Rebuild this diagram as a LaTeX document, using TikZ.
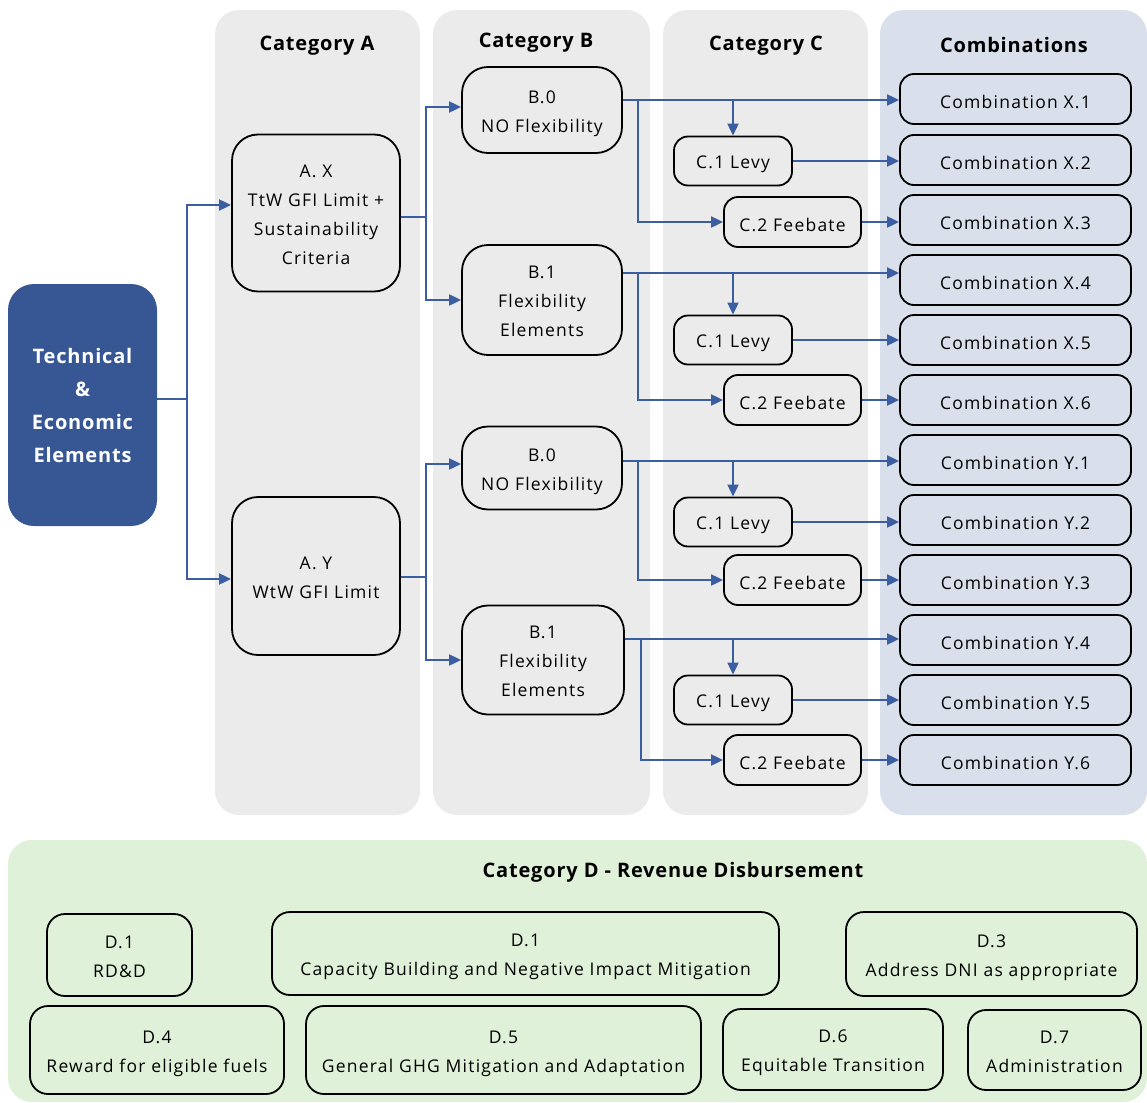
\documentclass[tikz,border=0pt]{standalone}
\usepackage{fontspec}
\setmainfont{Open Sans}[LetterSpace=7]
\newfontfamily\headfont{Open Sans}[LetterSpace=4]
\usetikzlibrary{arrows.meta,calc}
\definecolor{colgray}{HTML}{EBEBEB}
\definecolor{colcomb}{HTML}{D9DFEB}
\definecolor{colgreen}{HTML}{DFF1D8}
\definecolor{coltech}{HTML}{365694}
\definecolor{colline}{HTML}{3B5EA2}
\newcommand\mlines[1]{\raisebox{-2pt}[\height][\depth]{\begin{tabular}{@{}c@{}}#1\end{tabular}}}
\tikzset{
  lane/.style={rounded corners=24pt},
  box/.style={draw=black, line width=1.8pt, align=center, inner sep=0pt,
    font=\fontsize{17.5}{29}\selectfont, execute at begin node={\rule{0pt}{19pt}}},
  bbox/.style={box, rounded corners=26pt},
  cbox/.style={box, rounded corners=14pt},
  dbox/.style={box, rounded corners=18pt},
  title/.style={font=\headfont\fontsize{20}{24}\selectfont\bfseries},
  conn/.style={draw=colline, line width=1.9pt, -{Triangle[length=12pt,width=11pt]}},
  plain/.style={draw=colline, line width=1.9pt},
}
\begin{document}
\begin{tikzpicture}[x=1pt,y=-1pt]
\useasboundingbox (0,0) rectangle (1147,1102);
% lanes
\fill[colgray, lane] (215,10) rectangle (420,815);
\fill[colgray, lane] (433,10) rectangle (650,815);
\fill[colgray, lane] (663,10) rectangle (868,815);
\fill[colcomb, lane] (880,10) rectangle (1147,815);
\fill[colgreen, lane] (8,840) rectangle (1147,1102);
% titles
\node[title] (tA) at (317,46) {Category A};
\node[title] (tB) at (536,43) {Category B};
\node[title] (tC) at (766,46) {Category C};
\node[title] (tD) at (1014,45) {Combinations};
\node[title] (tE) at (673,872) {Category D - Revenue Disbursement};
% technical
\node[fill=coltech, rounded corners=26pt, minimum width=149pt, minimum height=242pt,
  inner sep=0pt, align=center, text=white, font=\headfont\fontsize{20}{33}\selectfont\bfseries]
  (tech) at (82.5,405) {Technical\\\&\\Economic\\Elements};
% category A
\node[bbox, minimum width=168pt, minimum height=157pt] (ax) at (316,213)
  {\mlines{A. X\\TtW GFI Limit +\\Sustainability\\Criteria}};
\node[bbox, minimum width=168pt, minimum height=158pt] (ay) at (316,576)
  {\mlines{A. Y\\WtW GFI Limit}};
% category B
\node[bbox, minimum width=160pt, minimum height=86pt] (b0a) at (542,110) {\mlines{B.0\\NO Flexibility}};
\node[bbox, minimum width=160pt, minimum height=110pt] (b1a) at (542,300) {\mlines{B.1\\Flexibility\\Elements}};
\node[bbox, minimum width=160pt, minimum height=83pt] (b0b) at (542,468) {\mlines{B.0\\NO Flexibility}};
\node[bbox, minimum width=162pt, minimum height=109pt] (b1b) at (543,660) {\mlines{B.1\\Flexibility\\Elements}};
% category C
\foreach \i/\y in {a/161,b/340,c/522,d/700}{
  \node[cbox, minimum width=118pt, minimum height=49pt] (c1\i) at (733,\y) {C.1 Levy};
}
\foreach \i/\y in {a/222,b/400,c/580,d/760}{
  \node[cbox, minimum width=137pt, minimum height=50pt] (c2\i) at (792.5,\y) {C.2 Feebate};
}
% combinations
\foreach \n/\t/\y in {x1/X.1/99,x2/X.2/160,x3/X.3/220,x4/X.4/280,x5/X.5/340,x6/X.6/400,
  y1/Y.1/460,y2/Y.2/520,y3/Y.3/580,y4/Y.4/640,y5/Y.5/700,y6/Y.6/760}{
  \node[cbox, minimum width=231pt, minimum height=50pt] (\n) at (1015.5,\y) {Combination \t};
}
% category D
\node[dbox, minimum width=145pt, minimum height=82pt] (d1) at (119.5,955) {\mlines{D.1\\RD\&D}};
\node[dbox, minimum width=507pt, minimum height=83pt] (d2) at (525.5,953.5) {\mlines{D.1\\Capacity Building and Negative Impact Mitigation}};
\node[dbox, minimum width=291pt, minimum height=84pt] (d3) at (991.5,954) {\mlines{D.3\\Address DNI as appropriate}};
\node[dbox, minimum width=254pt, minimum height=88pt] (d4) at (157,1050) {\mlines{D.4\\Reward for eligible fuels}};
\node[dbox, minimum width=395pt, minimum height=88pt] (d5) at (503.5,1050) {\mlines{D.5\\General GHG Mitigation and Adaptation}};
\node[dbox, minimum width=220pt, minimum height=81pt] (d6) at (833,1049.5) {\mlines{D.6\\Equitable Transition}};
\node[dbox, minimum width=173pt, minimum height=80pt] (d7) at (1054.5,1050) {\mlines{D.7\\Administration}};
% connectors: technical -> A
\coordinate (j0) at (187,399);
\draw[plain] (tech.east |- j0) -- (j0);
\draw[conn] (j0) |- ([yshift=8pt]ax.west);
\draw[conn] (j0) |- ([yshift=-3pt]ay.west);
% A -> B
\coordinate (j1) at (426,217);
\draw[plain] (ax.east |- j1) -- (j1);
\draw[conn] (j1) |- ([yshift=3pt]b0a.west);
\draw[conn] (j1) |- (b1a.west);
\coordinate (j2) at (426,577);
\draw[plain] (ay.east |- j2) -- (j2);
\draw[conn] (j2) |- ([yshift=4pt]b0b.west);
\draw[conn] (j2) |- (b1b.west);
% B -> C / combinations
\foreach \b/\yy/\c/\xa/\xb/\xc/\jx in {b0a/10/a/x1/x2/x3/638, b1a/27/b/x4/x5/x6/638,
  b0b/7/c/y1/y2/y3/638, b1b/21/d/y4/y5/y6/641}{
  \coordinate (s\b) at ([yshift=\yy pt]\b.east);
  \draw[conn] (s\b) -- (s\b -| \xa.west);
  \draw[conn] (s\b -| \jx,0) |- (c2\c.west);
  \draw[conn] (s\b -| c1\c.north) -- (c1\c.north);
  \draw[conn] (c1\c.east) -- (c1\c.east -| \xb.west);
  \draw[conn] (c2\c.east) -- (c2\c.east -| \xc.west);
}
\end{tikzpicture}
\end{document}
